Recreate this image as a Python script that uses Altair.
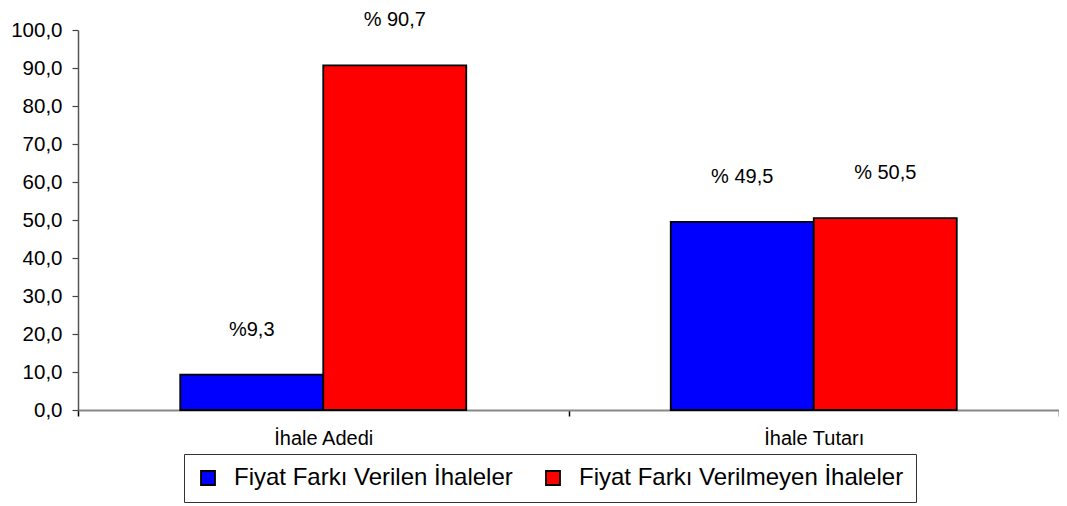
import altair as alt
import pandas as pd

categories = ["İhale Adedi", "İhale Adedi", "İhale Tutarı", "İhale Tutarı"]
series = ["Fiyat Farkı Verilen İhaleler", "Fiyat Farkı Verilmeyen İhaleler",
          "Fiyat Farkı Verilen İhaleler", "Fiyat Farkı Verilmeyen İhaleler"]
values = [9.3, 90.7, 49.5, 50.5]
labels = ["%9,3", "% 90,7", "% 49,5", "% 50,5"]
series_order = ["Fiyat Farkı Verilen İhaleler", "Fiyat Farkı Verilmeyen İhaleler"]
series_colors = ["#0000FF", "#FF0000"]
y_ticks = [0, 10, 20, 30, 40, 50, 60, 70, 80, 90, 100]

df = pd.DataFrame({"cat": categories, "series": series, "value": values, "label": labels})

FONT = "Liberation Sans"

x = alt.X("cat:N", title=None, sort=["İhale Adedi", "İhale Tutarı"],
          scale=alt.Scale(paddingInner=0, paddingOuter=0),
          axis=alt.Axis(labelAngle=0, labelFontSize=20, labelFont=FONT, labelColor="black",
                        tickBand="extent", tickSize=6, tickColor="black", tickWidth=1.5,
                        labelPadding=12, domainColor="#888888", domainWidth=2))
xo = alt.XOffset("series:N", sort=series_order,
                 scale=alt.Scale(paddingOuter=0.715, paddingInner=0))
y = alt.Y("value:Q", title=None,
          scale=alt.Scale(domain=[0, 100], nice=False),
          axis=alt.Axis(values=y_ticks, grid=False, labelFontSize=20.5, labelFont=FONT,
                        labelColor="black", tickSize=6, tickColor="#444444", tickWidth=1.2,
                        labelPadding=10, domainColor="#555555", domainWidth=1.5,
                        labelExpr="replace(format(datum.value, '.1f'), '.', ',')"))

bars = alt.Chart(df).mark_bar(stroke="black", strokeWidth=1.8).encode(
    x=x, xOffset=xo, y=y,
    color=alt.Color("series:N", sort=series_order,
                    scale=alt.Scale(domain=series_order, range=series_colors),
                    legend=alt.Legend(title=None, orient="none", legendX=106, legendY=424,
                                      direction="horizontal", padding=12,
                                      strokeColor="#333333", fillColor="white",
                                      symbolType="square", symbolSize=196,
                                      symbolStrokeColor="black", symbolStrokeWidth=1.8,
                                      labelFontSize=24, labelFont=FONT, labelColor="black",
                                      labelOffset=14, columnPadding=28, labelLimit=500))
)

text = alt.Chart(df).mark_text(dy=-45, fontSize=20, font=FONT, color="black",
                               baseline="middle").encode(
    x=x, xOffset=xo, y=y, text="label:N"
)

chart = alt.layer(bars, text).properties(
    width=981, height=380,
    autosize=alt.AutoSizeParams(type="none"),
    padding={"left": 70, "top": 22, "right": 0, "bottom": 94},
).configure(background="white").configure_view(stroke=None)

chart.save("out.html", embed_options={"renderer": "svg", "actions": False})
